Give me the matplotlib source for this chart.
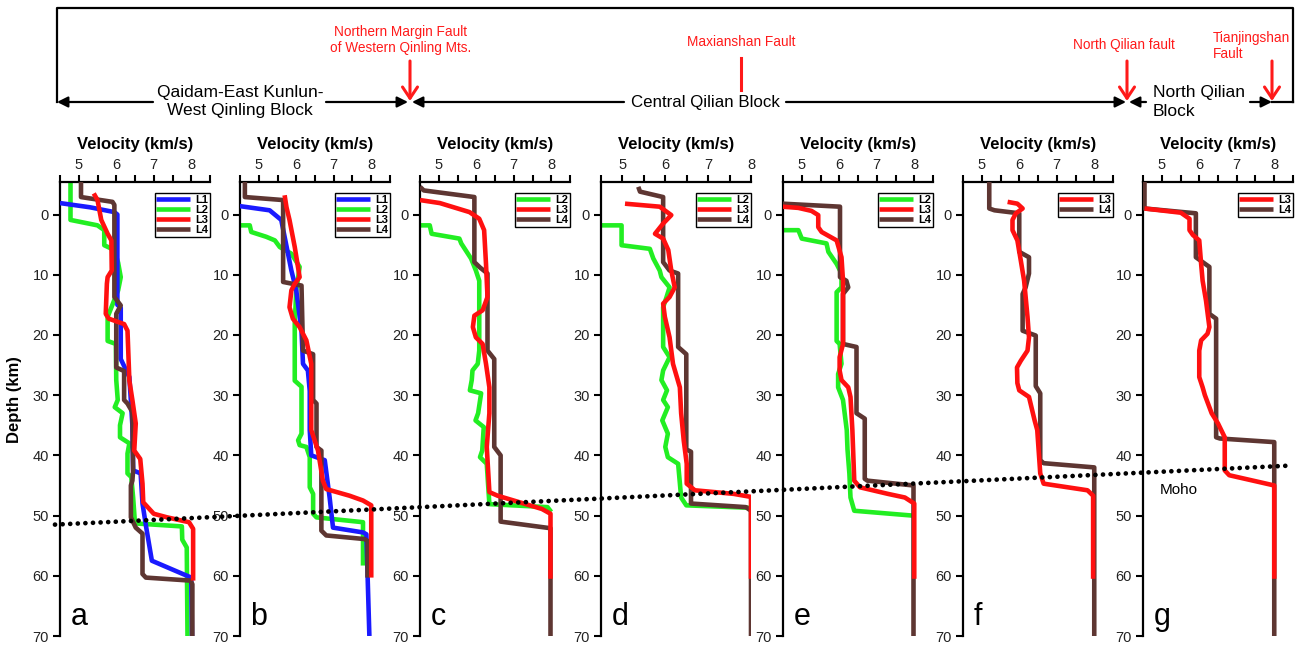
import matplotlib.pyplot as plt

plt.rcParams['font.family'] = ['Liberation Sans', 'DejaVu Sans']

# ---------------- velocity profiles (velocity km/s, depth km) ----------------
# panel a
a_L1_v = [4.5, 5.3, 5.95, 6.03, 6.03, 6.12, 6.12, 6.35, 6.43, 6.45, 6.65, 6.7, 6.8, 6.95, 8.0, 8.02]
a_L1_d = [-1.9, -1.2, -0.4, 0.0, 15.0, 15.5, 24.0, 27.0, 35.0, 42.5, 43.0, 48.0, 52.0, 57.5, 60.3, 70.0]
a_L2_v = [4.78, 4.78, 5.5, 5.68, 5.68, 5.95, 6.05, 6.12, 6.05, 5.77, 5.77, 5.99, 6.0, 6.04, 5.96, 6.17,
          6.1, 6.1, 6.35, 6.3, 6.3, 6.4, 6.45, 6.5, 7.75, 7.76, 7.88, 7.9]
a_L2_d = [-5.4, 0.9, 1.8, 2.6, 5.1, 5.9, 8.0, 10.4, 12.6, 17.0, 21.0, 21.5, 27.5, 30.8, 32.0, 33.0,
          35.0, 37.0, 38.0, 39.7, 43.0, 43.6, 47.0, 51.3, 51.8, 54.0, 55.3, 70.0]
a_L3_v = [5.4, 5.5, 5.6, 5.77, 5.87, 5.88, 5.77, 5.75, 5.72, 5.8, 6.21, 6.3, 6.35, 6.43, 6.52, 6.48,
          6.64, 6.7, 6.72, 7.0, 7.36, 7.94, 8.05, 8.05]
a_L3_d = [-3.5, -2.4, 0.9, 3.2, 4.3, 9.3, 10.4, 11.5, 16.5, 17.3, 18.2, 19.3, 27.6, 30.8, 34.7, 39.2,
          40.6, 44.7, 47.8, 49.7, 50.3, 51.1, 52.2, 60.8]
a_L4_v = [5.06, 5.06, 5.9, 5.95, 5.95, 6.12, 6.0, 6.0, 6.21, 6.21, 6.3, 6.43, 6.45, 6.43, 6.39, 6.39,
          6.52, 6.7, 6.7, 6.79, 7.98, 8.03, 8.03]
a_L4_d = [-5.4, -2.9, -2.1, -1.6, 13.7, 15.1, 16.5, 25.4, 26.0, 30.8, 31.4, 32.8, 42.5, 44.2, 45.0, 50.3,
          52.0, 53.0, 59.7, 60.3, 60.8, 61.4, 70.0]

# panel b
b_L1_v = [4.49, 5.29, 5.6, 5.87, 6.0, 6.14, 6.18, 6.31, 6.36, 6.36, 6.4, 6.76, 6.89, 6.98, 7.78, 7.87, 7.95]
b_L1_d = [-1.4, -0.7, 0.9, 9.3, 12.6, 19.3, 24.8, 25.9, 29.3, 35.8, 40.0, 40.8, 47.0, 52.0, 52.8, 53.1, 70.0]
b_L2_v = [4.49, 4.76, 4.8, 5.2, 5.43, 5.56, 5.87, 6.09, 6.0, 5.96, 5.96, 6.14, 6.14, 6.05, 6.09, 6.27,
          6.36, 6.36, 6.45, 6.45, 6.54, 7.78, 7.78]
b_L2_d = [1.8, 1.8, 2.9, 3.7, 4.3, 5.4, 6.5, 8.7, 12.6, 18.2, 27.6, 28.6, 36.4, 37.5, 38.3, 38.6,
          40.3, 45.3, 46.4, 49.7, 50.3, 51.1, 58.3]
b_L3_v = [5.69, 5.74, 5.82, 5.96, 6.09, 5.96, 5.87, 5.82, 5.91, 6.09, 6.27, 6.4, 6.4, 6.4, 6.58, 6.71,
          6.8, 7.42, 7.78, 8.0, 8.0]
b_L3_d = [-3.2, -1.2, 0.9, 5.4, 10.4, 11.5, 12.6, 15.4, 17.3, 18.7, 20.9, 24.8, 29.3, 35.8, 39.2, 44.2,
          45.6, 46.7, 47.5, 48.3, 60.3]
b_L4_v = [4.63, 4.63, 5.65, 5.65, 6.14, 6.18, 6.45, 6.45, 6.54, 6.54, 6.67, 6.67, 6.8, 7.82, 7.9, 7.9]
b_L4_d = [-5.4, -2.9, -2.4, 11.2, 11.8, 22.6, 23.2, 30.8, 31.4, 38.6, 39.2, 52.5, 53.3, 53.9, 54.2, 60.3]

# panel c
c_L2_v = [4.5, 4.76, 4.81, 5.55, 5.6, 5.86, 5.99, 6.08, 6.08, 6.04, 5.9, 5.88, 5.83, 6.13, 6.05, 5.98,
          6.2, 6.16, 6.1, 6.28, 6.35, 7.9, 8.0]
c_L2_d = [1.8, 1.8, 3.2, 4.0, 4.8, 7.3, 9.3, 11.0, 22.6, 24.8, 25.9, 27.5, 29.2, 29.7, 33.0, 34.2,
          35.3, 39.2, 40.3, 41.4, 48.1, 48.6, 49.4]
c_L3_v = [4.5, 5.03, 5.82, 6.08, 6.21, 6.26, 6.3, 6.17, 5.95, 5.91, 5.99, 6.17, 6.26, 6.35, 6.35, 6.28,
          6.35, 6.57, 7.0, 7.75, 7.98, 7.98]
c_L3_d = [-2.4, -1.9, -0.4, 0.7, 2.6, 8.2, 13.7, 15.9, 16.8, 18.7, 20.4, 21.5, 24.8, 28.7, 33.0, 38.6,
          46.1, 46.7, 47.5, 48.9, 49.7, 60.5]
c_L4_v = [4.5, 4.6, 5.95, 5.95, 6.1, 6.3, 6.3, 6.48, 6.48, 6.65, 6.65, 7.98, 7.98]
c_L4_d = [-4.6, -4.0, -2.9, 7.9, 8.8, 9.8, 22.6, 24.0, 38.6, 40.0, 51.0, 52.1, 70.0]

# panel d
d_L2_v = [4.5, 4.98, 4.98, 5.64, 5.72, 5.87, 5.91, 6.1, 6.03, 5.95, 5.95, 6.1, 5.95, 5.91, 6.04, 5.95,
          6.06, 5.93, 6.06, 6.0, 6.06, 6.3, 6.37, 6.49, 7.95]
d_L2_d = [1.8, 1.8, 5.1, 5.7, 7.3, 9.3, 10.4, 12.1, 13.7, 15.4, 22.0, 23.7, 25.9, 27.5, 29.2, 30.8,
          32.0, 34.2, 36.4, 38.6, 40.3, 41.4, 47.0, 48.3, 48.7]
d_L3_v = [5.06, 5.87, 6.14, 5.95, 5.76, 5.95, 6.07, 6.14, 6.22, 6.1, 5.95, 5.99, 6.1, 6.18, 6.34, 6.37,
          6.43, 6.5, 6.5, 6.69, 7.6, 8.0, 8.0]
d_L3_d = [-1.8, -1.3, 0.1, 1.5, 3.2, 4.0, 5.9, 9.3, 12.1, 13.7, 14.8, 17.0, 20.4, 24.8, 28.7, 33.0,
          37.5, 41.4, 44.7, 45.8, 46.4, 46.9, 60.5]
d_L4_v = [5.37, 5.41, 5.95, 5.95, 6.1, 6.3, 6.3, 6.49, 6.49, 6.6, 6.6, 7.88, 8.0, 8.0]
d_L4_d = [-4.6, -3.8, -2.9, 7.9, 9.3, 9.8, 22.0, 23.2, 39.0, 39.4, 48.0, 48.6, 49.2, 70.0]

# panel e
e_L2_v = [4.49, 4.91, 5.0, 5.66, 5.71, 5.93, 6.06, 6.06, 5.93, 5.93, 6.01, 6.06, 5.97, 5.97, 6.1, 6.2,
          6.22, 6.27, 6.3, 6.4, 7.95]
e_L2_d = [2.6, 2.6, 4.0, 4.8, 6.2, 8.2, 9.8, 12.1, 12.9, 21.0, 21.5, 24.8, 26.5, 28.7, 30.8, 35.8,
          39.0, 43.0, 47.0, 49.2, 50.0]
e_L3_v = [4.49, 4.91, 5.26, 5.44, 5.44, 5.53, 5.93, 6.06, 6.1, 6.1, 6.01, 6.01, 6.06, 6.24, 6.3, 6.35,
          6.4, 6.55, 7.3, 7.75, 8.0, 8.0]
e_L3_d = [-1.3, -1.1, -0.6, 0.1, 2.1, 2.9, 4.3, 7.1, 11.0, 21.5, 23.7, 25.9, 27.5, 28.7, 30.3, 35.8,
          44.2, 45.3, 46.4, 47.0, 48.0, 60.5]
e_L4_v = [4.49, 6.02, 6.02, 6.19, 6.24, 6.1, 6.1, 6.46, 6.46, 6.68, 6.68, 6.75, 7.98, 7.98]
e_L4_d = [-1.8, -1.3, 10.4, 11.0, 12.1, 13.2, 21.5, 22.0, 33.0, 33.9, 43.9, 44.2, 45.0, 70.0]

# panel f
f_L3_v = [5.69, 5.95, 6.09, 5.91, 5.82, 5.82, 5.95, 6.04, 6.13, 6.22, 6.26, 6.22, 6.04, 5.94, 5.95, 6.0,
          6.26, 6.41, 6.48, 6.56, 6.65, 7.82, 7.97, 7.97]
f_L3_d = [-2.1, -1.8, -1.0, -0.2, 0.9, 2.6, 4.3, 7.6, 11.0, 17.0, 20.4, 22.6, 24.3, 25.4, 28.0, 29.2,
          30.3, 34.2, 35.8, 43.0, 44.7, 45.8, 46.7, 60.5]
f_L4_v = [5.2, 5.2, 5.34, 6.0, 6.0, 6.26, 6.26, 6.17, 6.09, 6.09, 6.44, 6.44, 6.56, 6.56, 6.65, 8.0, 8.0]
f_L4_d = [-5.4, -1.0, -0.7, -0.2, 6.2, 7.1, 9.8, 12.1, 13.2, 19.3, 20.1, 28.5, 29.7, 40.8, 41.3, 42.0, 70.0]

# panel g
g_L3_v = [4.54, 5.51, 5.74, 5.74, 5.83, 6.0, 6.05, 6.09, 6.18, 6.27, 6.22, 6.05, 6.0, 6.0, 6.09, 6.15,
          6.33, 6.5, 6.68, 6.68, 6.8, 8.0, 8.0]
g_L3_d = [-1.0, -0.3, 0.7, 2.6, 3.4, 4.3, 8.2, 11.0, 14.3, 18.7, 19.8, 20.9, 22.6, 27.0, 28.7, 30.0,
          33.0, 34.7, 37.0, 42.5, 43.3, 45.0, 60.5]
g_L4_v = [4.54, 4.54, 5.91, 5.91, 6.09, 6.27, 6.27, 6.45, 6.45, 6.55, 8.0, 8.0]
g_L4_d = [-5.4, -1.0, -0.2, 7.1, 7.9, 8.7, 16.5, 17.3, 37.0, 37.2, 37.8, 70.0]

# Moho (dotted line across all panels): depth at left / right end
moho_x_px = [55, 1290]
moho_depth = [51.5, 41.7]

panel_letters = ['a', 'b', 'c', 'd', 'e', 'f', 'g']
panel_left_px = [60, 240, 420, 601, 783, 963, 1143]
panel_xmax = [8.5, 8.5, 8.5, 8.0, 8.5, 8.5, 8.5]
panel_lines = [
    [('L1', a_L1_v, a_L1_d), ('L2', a_L2_v, a_L2_d), ('L3', a_L3_v, a_L3_d), ('L4', a_L4_v, a_L4_d)],
    [('L1', b_L1_v, b_L1_d), ('L2', b_L2_v, b_L2_d), ('L3', b_L3_v, b_L3_d), ('L4', b_L4_v, b_L4_d)],
    [('L2', c_L2_v, c_L2_d), ('L3', c_L3_v, c_L3_d), ('L4', c_L4_v, c_L4_d)],
    [('L2', d_L2_v, d_L2_d), ('L3', d_L3_v, d_L3_d), ('L4', d_L4_v, d_L4_d)],
    [('L2', e_L2_v, e_L2_d), ('L3', e_L3_v, e_L3_d), ('L4', e_L4_v, e_L4_d)],
    [('L3', f_L3_v, f_L3_d), ('L4', f_L4_v, f_L4_d)],
    [('L3', g_L3_v, g_L3_d), ('L4', g_L4_v, g_L4_d)],
]

colors = {'L1': '#1a1aff', 'L2': '#22ee22', 'L3': '#ff1010', 'L4': '#5e3632'}
zorders = {'L2': 2, 'L1': 3, 'L4': 4, 'L3': 5}

W, H = 1298, 646
fig = plt.figure(figsize=(W / 100, H / 100), dpi=100)

TOP_PX, BOT_PX, PW = 182, 636, 150
YLIM = (70, -5.4)

axes = []
for letter, left, xmax, lines in zip(panel_letters, panel_left_px, panel_xmax, panel_lines):
    ax = fig.add_axes([left / W, (H - BOT_PX) / H, PW / W, (BOT_PX - TOP_PX) / H])
    handles = {}
    for name, v, d in lines:
        ln, = ax.plot(v, d, color=colors[name], lw=3.3, zorder=zorders[name],
                      solid_joinstyle='round', solid_capstyle='butt')
        handles[name] = ln
    ax.set_xlim(4.5, xmax)
    ax.set_ylim(*YLIM)
    ax.xaxis.tick_top()
    ax.xaxis.set_label_position('top')
    ax.set_xticks([5, 6, 7, 8])
    ax.set_xticks([x / 2 for x in range(9, int(xmax * 2) + 1, 2)], minor=True)
    ax.set_yticks(range(0, 71, 10))
    ax.tick_params(axis='x', which='both', direction='out', length=5, width=1.5,
                   labelsize=10.5, pad=2, labelcolor='#222222')
    ax.tick_params(axis='y', which='both', direction='out', length=5, width=1.5,
                   labelsize=10.5, pad=3, labelcolor='#222222')
    for s in ['right', 'bottom']:
        ax.spines[s].set_visible(False)
    for s in ['left', 'top']:
        ax.spines[s].set_linewidth(1.6)
    ax.set_xlabel('Velocity (km/s)', fontweight='bold', fontsize=12, labelpad=7)
    ax.text(0.07, 0.008, letter, transform=ax.transAxes, fontsize=22, va='bottom', ha='left')
    names = [n for n, _, _ in lines]
    leg = ax.legend([handles[n] for n in names], names, loc='upper right',
                    bbox_to_anchor=(1.0, 0.975), borderaxespad=0, fancybox=False,
                    framealpha=1, edgecolor='black', prop={'weight': 'bold', 'size': 8},
                    handlelength=3.0, handletextpad=0.5, labelspacing=0.0, borderpad=0.15)
    leg.get_frame().set_linewidth(1.0)
    leg.set_zorder(10)
    axes.append(ax)

fig.text(15 / W, 1 - 400 / H, 'Depth (km)', rotation=90, fontweight='bold', fontsize=12,
         ha='center', va='center')

# overlay for the Moho line (x in pixels, y in depth)
ov = fig.add_axes([0, (H - BOT_PX) / H, 1, (BOT_PX - TOP_PX) / H], zorder=20)
ov.set_xlim(0, W)
ov.set_ylim(*YLIM)
ov.axis('off')
ov.patch.set_alpha(0)
ov.plot(moho_x_px, moho_depth, color='black', lw=3.4, linestyle=(0, (0.01, 1.6)),
        dash_capstyle='round')
axes[-1].text(4.95, 45.7, 'Moho', fontsize=11, va='center', ha='left', zorder=12)

# header with tectonic blocks and faults (pixel coordinates)
hd = fig.add_axes([0, 0, 1, 1], zorder=-1)
hd.set_xlim(0, W)
hd.set_ylim(H, 0)
hd.axis('off')
hd.patch.set_alpha(0)

hd.plot([57, 57, 1293, 1293], [102, 8, 8, 102], color='black', lw=1.6)
arr = dict(arrowstyle='-|>', color='black', lw=1.6, mutation_scale=16, shrinkA=0, shrinkB=0)
hd.annotate('', xy=(57, 102), xytext=(153, 102), arrowprops=arr)
hd.annotate('', xy=(408, 102), xytext=(326, 102), arrowprops=arr)
hd.annotate('', xy=(412, 102), xytext=(624, 102), arrowprops=arr)
hd.annotate('', xy=(1126, 102), xytext=(786, 102), arrowprops=arr)
hd.annotate('', xy=(1129, 102), xytext=(1146, 102), arrowprops=arr)
hd.annotate('', xy=(1272, 102), xytext=(1250, 102), arrowprops=arr)
hd.plot([1272, 1293], [102, 102], color='black', lw=1.6)

hd.text(240, 102, 'Qaidam-East Kunlun-\nWest Qinling Block', fontsize=12.5, ha='center',
        va='center', linespacing=1.25)
hd.text(705, 103, 'Central Qilian Block', fontsize=12.2, ha='center', va='center')
hd.text(1153, 102, 'North Qilian\nBlock', fontsize=12.5, ha='left', va='center', linespacing=1.25)

red = '#ff1a1a'
rarr = dict(arrowstyle='->,head_length=0.45,head_width=0.3', color=red, lw=2.2,
            mutation_scale=18, shrinkA=0, shrinkB=0)
hd.annotate('', xy=(410, 101), xytext=(410, 61), arrowprops=rarr)
hd.annotate('', xy=(1127, 101), xytext=(1127, 61), arrowprops=rarr)
hd.annotate('', xy=(1272, 101), xytext=(1272, 61), arrowprops=rarr)
hd.plot([741, 741], [58, 90], color=red, lw=2.2)

hd.text(401, 40, 'Northern Margin Fault\nof Western Qinling Mts.', color=red, fontsize=9.8,
        ha='center', va='center', linespacing=1.1)
hd.text(741, 42, 'Maxianshan Fault', color=red, fontsize=9.8, ha='center', va='center')
hd.text(1124, 45, 'North Qilian fault', color=red, fontsize=9.8, ha='center', va='center')
hd.text(1213, 46, 'Tianjingshan\nFault', color=red, fontsize=9.8, ha='left', va='center',
        linespacing=1.1)

fig.savefig('out.png', dpi=100)
